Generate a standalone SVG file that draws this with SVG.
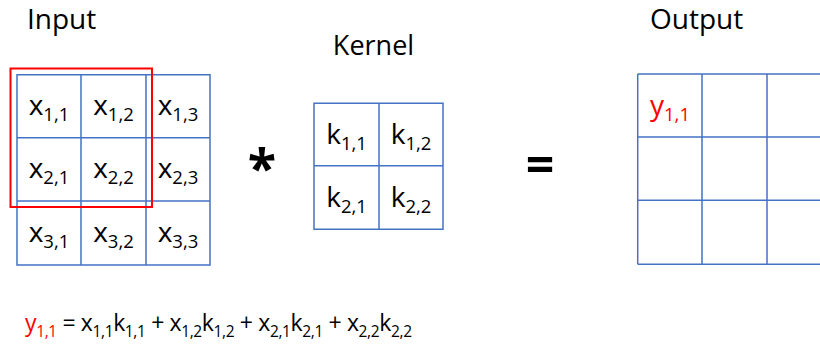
<svg xmlns="http://www.w3.org/2000/svg" width="820" height="345" viewBox="0 0 820 345">
<style>
.t{font-family:"Open Sans","Noto Sans",sans-serif;fill:#000}
.title{font-size:28px}
.cell{font-size:28px;text-anchor:middle}
.sub{font-size:18.5px}
.grid{fill:none;stroke:#4472C4;stroke-width:1.5}
.red{fill:#FF0000}
.f{font-size:23px}
.fs{font-size:15.5px}
</style>
<rect width="820" height="345" fill="#fff"/>
<g id="input">
<text class="t title" x="27" y="29">Input</text>
<path class="grid" d="M17,74.7H210V265H17Z M81,74.7V265 M146,74.7V265 M17,137.7H210 M17,201H210"/>
<g class="t cell">
<text x="49" y="115">x<tspan class="sub" dy="6">1,1</tspan></text>
<text x="113.5" y="115">x<tspan class="sub" dy="6">1,2</tspan></text>
<text x="178" y="115">x<tspan class="sub" dy="6">1,3</tspan></text>
<text x="49" y="178">x<tspan class="sub" dy="6">2,1</tspan></text>
<text x="113.5" y="178">x<tspan class="sub" dy="6">2,2</tspan></text>
<text x="178" y="178">x<tspan class="sub" dy="6">2,3</tspan></text>
<text x="49" y="242">x<tspan class="sub" dy="6">3,1</tspan></text>
<text x="113.5" y="242">x<tspan class="sub" dy="6">3,2</tspan></text>
<text x="178" y="242">x<tspan class="sub" dy="6">3,3</tspan></text>
</g>
<rect x="10.5" y="68.5" width="141.5" height="138.5" fill="none" stroke="#FF0000" stroke-width="2"/>
</g>
<g id="op-conv">
<text class="t" x="262" y="187" font-size="52" font-weight="bold" text-anchor="middle">*</text>
</g>
<g id="kernel">
<text class="t" x="373.5" y="55" font-size="27px" text-anchor="middle">Kernel</text>
<path class="grid" d="M314,103.3H443V229.3H314Z M379,103.3V229.3 M314,165.7H443"/>
<g class="t cell">
<text x="346.5" y="143.5">k<tspan class="sub" dy="6">1,1</tspan></text>
<text x="411" y="143.5">k<tspan class="sub" dy="6">1,2</tspan></text>
<text x="346.5" y="206.5">k<tspan class="sub" dy="6">2,1</tspan></text>
<text x="411" y="206.5">k<tspan class="sub" dy="6">2,2</tspan></text>
</g>
</g>
<g id="op-eq">
<text class="t" x="540" y="182" font-size="50" font-weight="bold" text-anchor="middle">=</text>
</g>
<g id="output">
<text class="t title" x="650" y="28.5">Output</text>
<path class="grid" d="M637.7,74H830 M637.7,137H830 M637.7,200.3H830 M637.7,264.3H830 M637.7,74V264.3 M702,74V264.3 M767,74V264.3"/>
<text class="t cell red" x="670" y="115">y<tspan class="sub" dy="6">1,1</tspan></text>
</g>
<g id="formula">
<text class="t f" x="25" y="331" textLength="387" lengthAdjust="spacing"><tspan class="red">y</tspan><tspan class="fs red" dy="6">1,1</tspan><tspan dy="-6"> = x</tspan><tspan class="fs" dy="6">1,1</tspan><tspan dy="-6">k</tspan><tspan class="fs" dy="6">1,1</tspan><tspan dy="-6"> + x</tspan><tspan class="fs" dy="6">1,2</tspan><tspan dy="-6">k</tspan><tspan class="fs" dy="6">1,2</tspan><tspan dy="-6"> + x</tspan><tspan class="fs" dy="6">2,1</tspan><tspan dy="-6">k</tspan><tspan class="fs" dy="6">2,1</tspan><tspan dy="-6"> + x</tspan><tspan class="fs" dy="6">2,2</tspan><tspan dy="-6">k</tspan><tspan class="fs" dy="6">2,2</tspan></text>
</g>
</svg>
